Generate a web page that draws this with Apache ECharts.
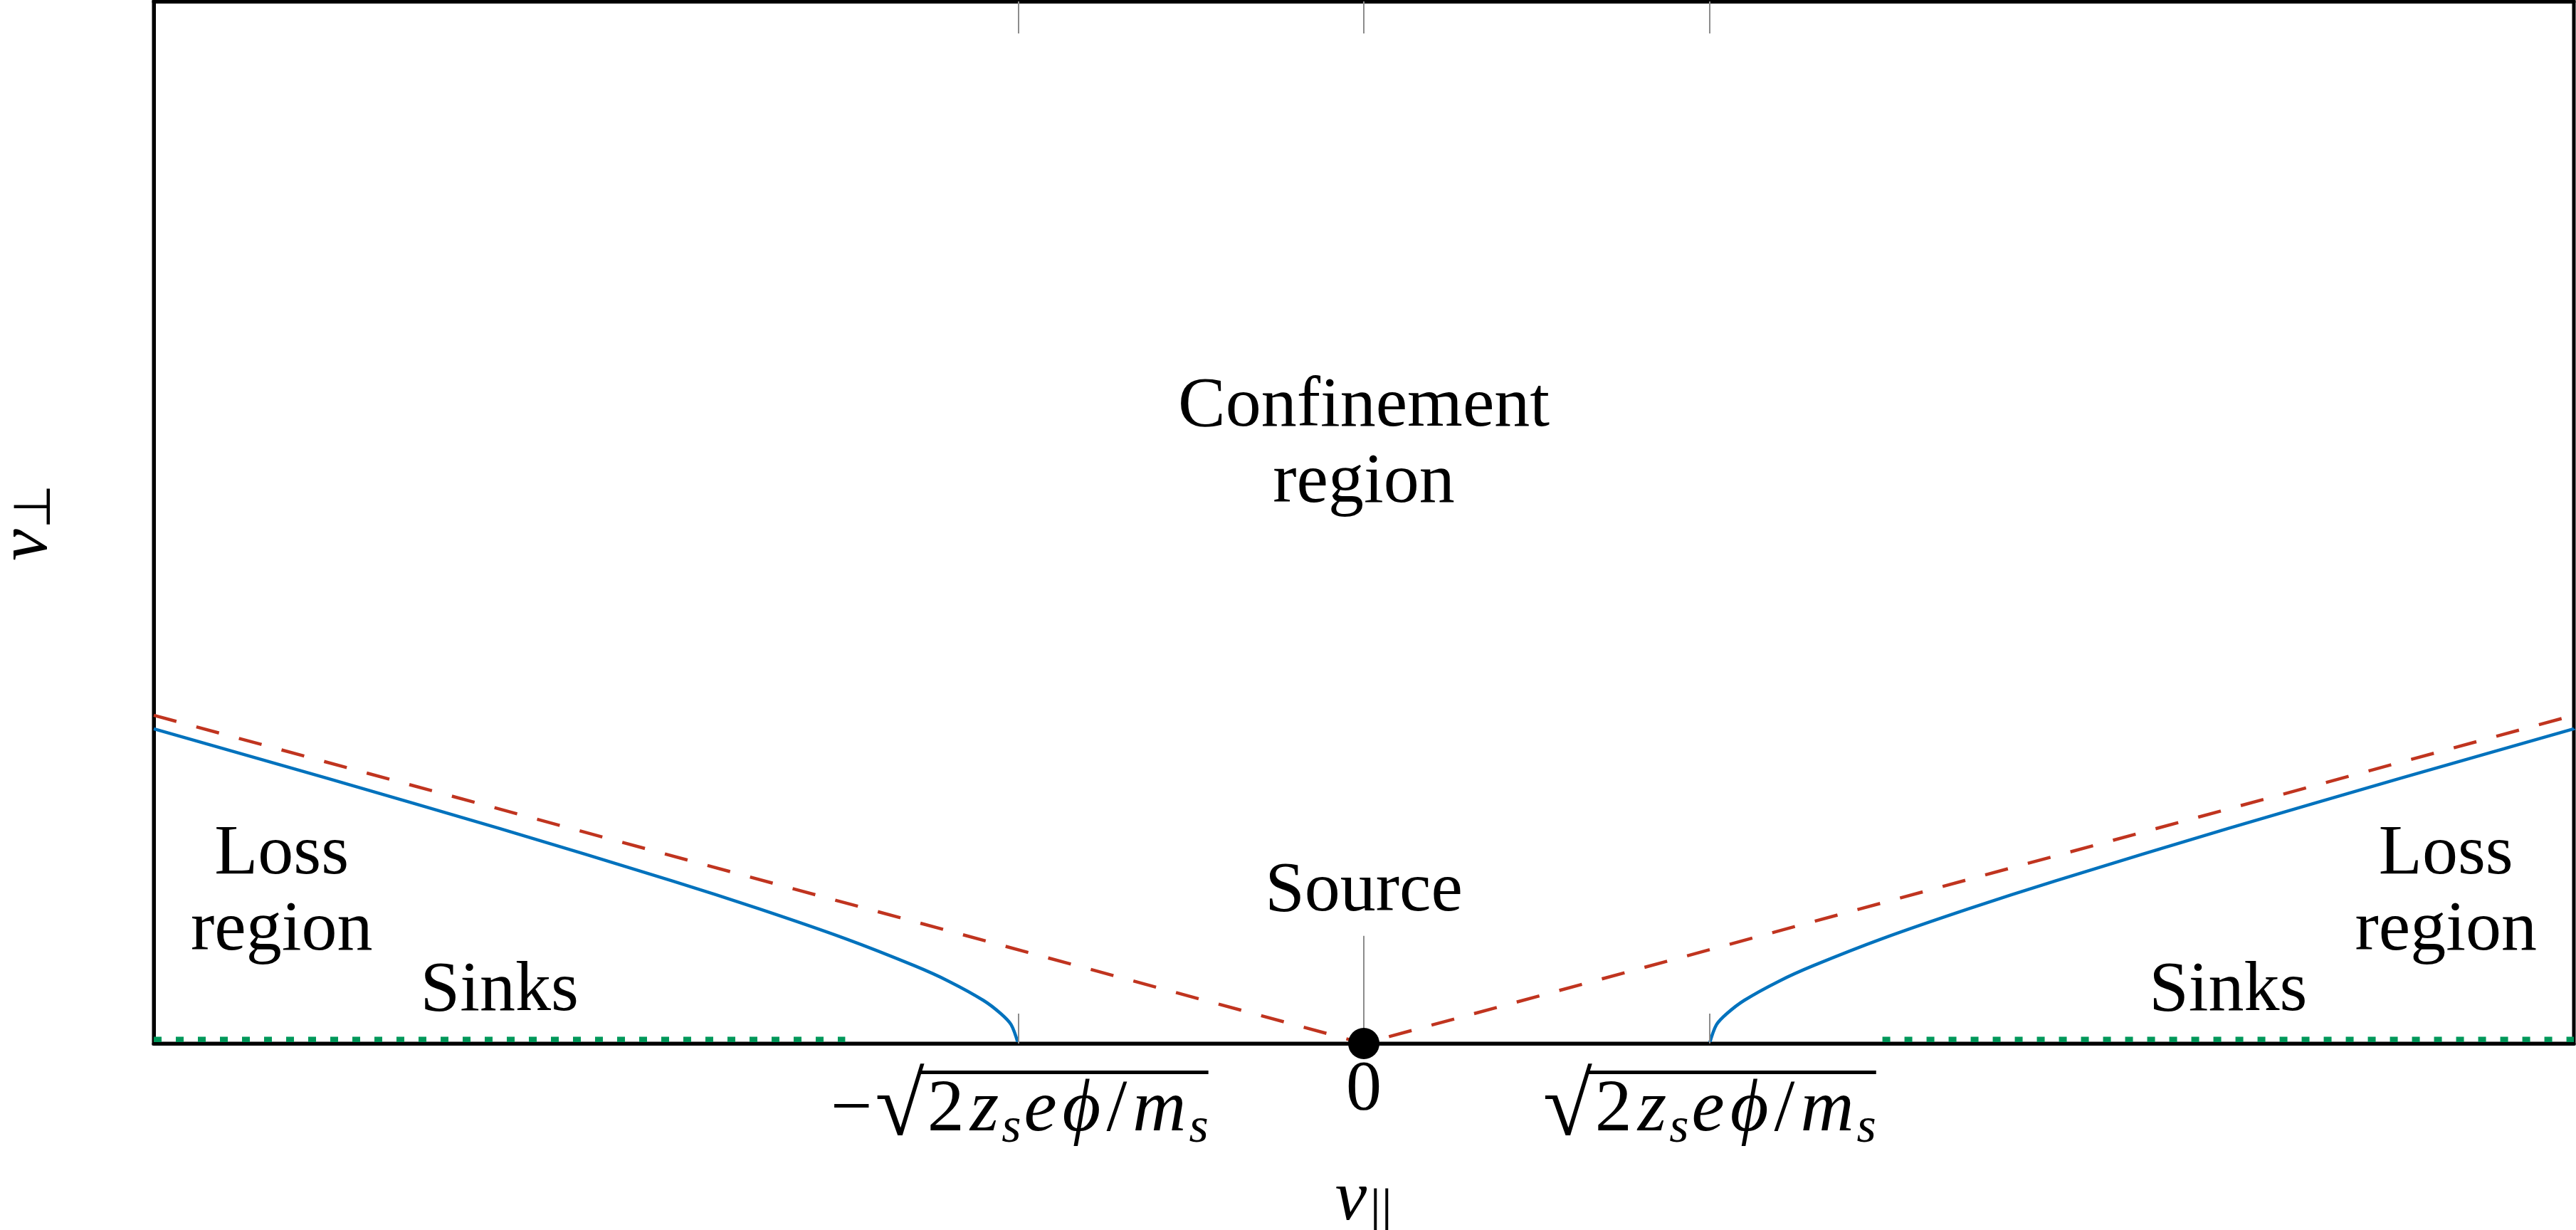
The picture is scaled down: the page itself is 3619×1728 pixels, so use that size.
<!DOCTYPE html>
<html>
<head>
<meta charset="utf-8">
<script src="https://cdn.jsdelivr.net/npm/echarts@6/dist/echarts.min.js"></script>
<style>
  html, body { margin: 0; padding: 0; background: #fff; }
  #main { width: 3619px; height: 1728px; }
</style>
</head>
<body>
<div id="main"></div>
<script>
// axis ticks (v_par in units of sqrt(2 z_s e phi / m_s))
var tickValues = [-1, 0, 1];
var tickLabels = [
  '{bar| }\n{n|\u2212}{r|\u221A}{n|2}{i|z}{s|s}{i|e}{i|\u03D5}{n|/}{i|m}{s|s}',
  '{zero|0}',
  '{bar| }\n{r|\u221A}{n|2}{i|z}{s|s}{i|e}{i|\u03D5}{n|/}{i|m}{s|s}'
];

// trapped/passing boundary (blue)
var boundaryLeft = [
  [-3.5, 0.906], [-3.0, 0.764], [-2.5, 0.619], [-2.0, 0.468], [-1.75, 0.388],
  [-1.5, 0.302], [-1.3, 0.224], [-1.2, 0.179], [-1.1, 0.124], [-1.05, 0.086],
  [-1.02, 0.054], [-1.0, 0.0]
];
var boundaryRight = [
  [1.0, 0.0], [1.02, 0.054], [1.05, 0.086], [1.1, 0.124], [1.2, 0.179],
  [1.3, 0.224], [1.5, 0.302], [1.75, 0.388], [2.0, 0.468], [2.5, 0.619],
  [3.0, 0.764], [3.5, 0.906]
];

// loss cone asymptote (red dashed)
var lossCone = [[-3.5, 0.945], [0, 0], [3.5, 0.945]];

// sinks along the v_par axis (green)
var sinksLeft = [[-3.5, 0.009], [-1.5, 0.009]];
var sinksRight = [[1.5, 0.009], [3.5, 0.009]];

// source at the origin
var sourcePoint = [[0, 0]];
var sourceLine = [[0, 0], [0, 0.31]];

// region labels
var notes = [
  { name: 'Confinement\nregion', value: [0, 1.723] },
  { name: 'Source', value: [0, 0.437] },
  { name: 'Loss\nregion', value: [-3.13, 0.433] },
  { name: 'Loss\nregion', value: [3.13, 0.433] },
  { name: 'Sinks', value: [-2.5, 0.15] },
  { name: 'Sinks', value: [2.5, 0.15] }
];

var serif = 'Liberation Serif';
var tickColor = '#8c8c8c';
var mathSize = 104;

var chart = echarts.init(document.getElementById('main'));

var option = {
  animation: false,
  backgroundColor: '#fff',
  grid: {
    left: 216, right: 3, top: 2, bottom: 262,
    outerBoundsMode: 'none', containLabel: false,
    show: true, borderColor: '#000', borderWidth: 5, backgroundColor: 'transparent'
  },
  xAxis: [
    {
      type: 'value', min: -3.5, max: 3.5, position: 'bottom', z: 5,
      axisLine: { show: true, onZero: false, lineStyle: { color: '#000', width: 5 } },
      axisTick: { show: true, inside: true, length: 42, customValues: [-1, 1],
                  lineStyle: { color: tickColor, width: 2 } },
      splitLine: { show: false },
      axisLabel: {
        show: true, margin: 38, customValues: tickValues,
        formatter: function (v) { return tickLabels[tickValues.indexOf(v)]; },
        rich: {
          bar: { fontSize: 10, lineHeight: 25, height: 5, width: 404, align: 'right',
                 verticalAlign: 'top', backgroundColor: '#000' },
          n: { fontFamily: serif, fontSize: mathSize, color: '#000', lineHeight: 64, padding: [0, 4, 0, 4] },
          r: { fontFamily: serif, fontSize: 126, color: '#000', lineHeight: 64 },
          i: { fontFamily: serif, fontStyle: 'italic', fontSize: mathSize, color: '#000', lineHeight: 64, padding: [0, 4, 0, 4] },
          s: { fontFamily: serif, fontStyle: 'italic', fontSize: 70, color: '#000', lineHeight: 64, padding: [50, 0, 0, 0] },
          zero: { fontFamily: serif, fontSize: 100, color: '#000', lineHeight: 56 }
        }
      },
      name: '{i|v}{s|||}',
      nameLocation: 'middle',
      nameGap: 152,
      nameTextStyle: {
        rich: {
          i: { fontFamily: serif, fontStyle: 'italic', fontSize: 100, color: '#000', lineHeight: 110 },
          s: { fontFamily: serif, fontSize: 80, color: '#000', lineHeight: 110, padding: [36, 0, 0, 4] }
        }
      }
    },
    {
      type: 'value', min: -3.5, max: 3.5, position: 'top', z: 5,
      axisLine: { show: true, onZero: false, lineStyle: { color: '#000', width: 5 } },
      axisTick: { show: true, inside: true, length: 45, customValues: tickValues,
                  lineStyle: { color: tickColor, width: 2 } },
      axisLabel: { show: false },
      splitLine: { show: false }
    }
  ],
  yAxis: {
    type: 'value', min: 0, max: 3, position: 'left',
    axisLine: { show: true, onZero: false, lineStyle: { color: '#000', width: 5 } },
    axisTick: { show: false },
    axisLabel: { show: false },
    splitLine: { show: false },
    name: '{i|v}{s|\u22A5}',
    nameLocation: 'middle',
    nameRotate: 90,
    nameGap: 127,
    nameTextStyle: {
      rich: {
        i: { fontFamily: serif, fontStyle: 'italic', fontSize: 100, color: '#000', lineHeight: 100 },
        s: { fontFamily: serif, fontSize: 72, color: '#000', lineHeight: 100, padding: [24, 0, 0, 0] }
      }
    }
  },
  series: [
    {
      type: 'line', data: sinksLeft, symbol: 'none', z: 1, clip: false, silent: true,
      lineStyle: { color: '#00985a', width: 10, type: [11, 20] }
    },
    {
      type: 'line', data: sinksRight, symbol: 'none', z: 1, clip: false, silent: true,
      lineStyle: { color: '#00985a', width: 10, type: [11, 20] }
    },
    {
      type: 'line', data: lossCone, symbol: 'none', silent: true,
      lineStyle: { color: '#c0341f', width: 4.5, type: [33, 29] }
    },
    {
      type: 'line', data: boundaryLeft, symbol: 'none', smooth: 0.3, silent: true,
      lineStyle: { color: '#0072bd', width: 4.5 }
    },
    {
      type: 'line', data: boundaryRight, symbol: 'none', smooth: 0.3, silent: true,
      lineStyle: { color: '#0072bd', width: 4.5 }
    },
    {
      type: 'line', data: sourceLine, symbol: 'none', silent: true,
      lineStyle: { color: tickColor, width: 2 }
    },
    {
      type: 'scatter', data: sourcePoint, symbolSize: 44, z: 10, clip: false, silent: true,
      itemStyle: { color: '#000', opacity: 1 }
    },
    {
      type: 'scatter', data: notes, symbolSize: 1, silent: true,
      itemStyle: { color: 'rgba(0,0,0,0)', opacity: 1 },
      label: {
        show: true, position: 'inside', formatter: '{b}',
        fontFamily: serif, fontSize: 100, lineHeight: 107, color: '#000', align: 'center'
      }
    }
  ]
};

chart.setOption(option);
</script>
</body>
</html>
